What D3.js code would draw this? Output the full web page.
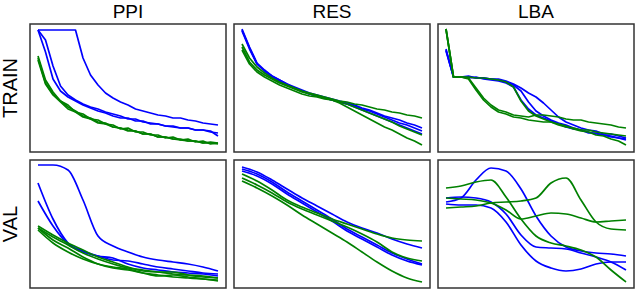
<!DOCTYPE html>
<html>
<meta charset="UTF-8" />
<script src="https://cdn.jsdelivr.net/npm/d3@7/dist/d3.min.js"></script>
<style>
*{margin:0; padding:0;}
body{background:#fff; width:636px; height:290px; overflow:hidden;}
</style>
<body>
<div id="chart"></div>
<script>
var columns = ["PPI", "RES", "LBA"];
var rows = ["TRAIN", "VAL"];

// x positions (epochs) of the samples
var trainEpochs = d3.range(25);
var valEpochs = d3.range(13);

// ---- TRAIN ----
var ppiTrainBlue = [
	[1.16,1.16,1.16,1.16,1.16,1.16,0.88,0.71,0.61,0.53,0.48,0.44,0.41,0.37,0.35,0.33,0.31,0.30,0.28,0.28,0.26,0.25,0.23,0.22,0.21],
	[1.16,0.94,0.67,0.55,0.49,0.45,0.41,0.38,0.35,0.33,0.30,0.28,0.28,0.25,0.25,0.22,0.22,0.20,0.19,0.18,0.18,0.16,0.16,0.15,0.10],
	[1.16,1.06,0.80,0.60,0.51,0.46,0.42,0.39,0.37,0.34,0.32,0.30,0.27,0.27,0.24,0.23,0.22,0.20,0.20,0.18,0.18,0.16,0.16,0.14,0.13]
];
var ppiTrainGreen = [
	[0.90,0.66,0.54,0.45,0.41,0.34,0.32,0.27,0.26,0.22,0.21,0.17,0.18,0.14,0.14,0.11,0.11,0.08,0.09,0.06,0.07,0.04,0.05,0.02,0.03],
	[0.88,0.63,0.52,0.45,0.39,0.35,0.30,0.28,0.24,0.23,0.19,0.18,0.16,0.15,0.12,0.12,0.09,0.09,0.07,0.07,0.05,0.05,0.03,0.04,0.03],
	[0.86,0.62,0.51,0.44,0.37,0.34,0.29,0.27,0.23,0.22,0.19,0.18,0.15,0.15,0.12,0.12,0.09,0.09,0.07,0.06,0.05,0.05,0.03,0.03,0.02]
];
var resTrainBlue = [
	[1.17,0.99,0.83,0.76,0.70,0.66,0.62,0.59,0.56,0.53,0.51,0.49,0.47,0.45,0.43,0.41,0.38,0.36,0.33,0.30,0.28,0.26,0.23,0.21,0.18],
	[1.15,0.97,0.82,0.75,0.69,0.65,0.61,0.58,0.55,0.52,0.50,0.48,0.46,0.44,0.42,0.39,0.36,0.33,0.30,0.27,0.24,0.21,0.18,0.15,0.12],
	[1.16,0.98,0.82,0.75,0.70,0.66,0.62,0.58,0.55,0.52,0.50,0.48,0.46,0.44,0.42,0.40,0.37,0.35,0.32,0.29,0.26,0.23,0.21,0.18,0.15]
];
var resTrainGreen = [
	[1.02,0.88,0.79,0.73,0.68,0.64,0.61,0.58,0.55,0.53,0.51,0.49,0.47,0.45,0.44,0.42,0.41,0.39,0.37,0.36,0.34,0.33,0.31,0.30,0.28],
	[0.99,0.84,0.76,0.71,0.67,0.63,0.60,0.57,0.54,0.52,0.50,0.48,0.46,0.44,0.42,0.39,0.36,0.33,0.30,0.27,0.24,0.20,0.17,0.14,0.11],
	[0.96,0.82,0.74,0.69,0.65,0.61,0.58,0.55,0.52,0.50,0.49,0.47,0.46,0.43,0.39,0.35,0.31,0.27,0.23,0.19,0.16,0.12,0.08,0.05,0.01]
];
var lbaTrainBlue = [
	[0.97,0.69,0.69,0.70,0.68,0.68,0.67,0.67,0.65,0.62,0.58,0.53,0.49,0.43,0.36,0.29,0.24,0.21,0.18,0.16,0.15,0.12,0.12,0.10,0.08],
	[0.95,0.69,0.69,0.68,0.69,0.67,0.66,0.65,0.63,0.59,0.46,0.37,0.31,0.28,0.25,0.22,0.19,0.17,0.16,0.13,0.13,0.11,0.10,0.08,0.06],
	[0.96,0.69,0.69,0.69,0.68,0.68,0.67,0.66,0.64,0.61,0.55,0.44,0.35,0.30,0.26,0.23,0.21,0.18,0.16,0.14,0.12,0.11,0.09,0.08,0.07]
];
var lbaTrainGreen = [
	[1.17,0.69,0.69,0.69,0.68,0.68,0.67,0.66,0.64,0.59,0.45,0.35,0.30,0.27,0.24,0.22,0.20,0.17,0.15,0.14,0.11,0.10,0.07,0.05,0.01],
	[1.17,0.69,0.69,0.68,0.58,0.48,0.41,0.36,0.34,0.31,0.30,0.29,0.31,0.31,0.30,0.29,0.27,0.26,0.26,0.24,0.23,0.22,0.21,0.19,0.18],
	[1.17,0.69,0.69,0.67,0.56,0.46,0.39,0.34,0.32,0.29,0.28,0.26,0.25,0.24,0.24,0.21,0.19,0.18,0.16,0.16,0.14,0.13,0.12,0.11,0.10]
];

// ---- VAL ----
var ppiValBlue = [
	[1.17,1.17,1.12,0.82,0.46,0.36,0.30,0.25,0.22,0.20,0.18,0.15,0.11],
	[0.99,0.63,0.39,0.31,0.26,0.22,0.21,0.18,0.15,0.13,0.11,0.09,0.08],
	[0.81,0.56,0.38,0.30,0.26,0.24,0.18,0.14,0.12,0.10,0.09,0.08,0.06]
];
var ppiValGreen = [
	[0.54,0.42,0.34,0.25,0.18,0.14,0.12,0.09,0.07,0.05,0.04,0.03,0.01],
	[0.54,0.45,0.37,0.29,0.23,0.18,0.14,0.12,0.10,0.08,0.07,0.06,0.04],
	[0.52,0.39,0.30,0.23,0.18,0.15,0.13,0.09,0.06,0.07,0.05,0.03,0.02],
	[0.56,0.47,0.39,0.32,0.25,0.20,0.15,0.11,0.10,0.10,0.07,0.05,0.04]
];
var resValBlue = [
	[1.15,1.10,1.02,0.93,0.84,0.76,0.68,0.60,0.54,0.49,0.43,0.38,0.34],
	[1.13,1.08,1.00,0.90,0.81,0.72,0.63,0.53,0.45,0.37,0.29,0.23,0.18],
	[1.11,1.06,0.98,0.88,0.79,0.70,0.61,0.51,0.43,0.35,0.27,0.21,0.17]
];
var resValGreen = [
	[1.08,1.01,0.92,0.82,0.75,0.69,0.63,0.58,0.53,0.48,0.44,0.42,0.41],
	[1.04,0.97,0.89,0.80,0.73,0.67,0.61,0.55,0.48,0.40,0.30,0.24,0.21],
	[1.01,0.94,0.86,0.77,0.67,0.58,0.49,0.40,0.30,0.20,0.11,0.04,0.00]
];
var lbaValBlue = [
	[0.80,0.84,1.02,1.14,1.11,0.93,0.66,0.46,0.35,0.31,0.29,0.28,0.26],
	[0.84,0.85,0.84,0.80,0.68,0.47,0.35,0.34,0.33,0.29,0.25,0.20,0.12],
	[0.78,0.77,0.77,0.74,0.60,0.37,0.21,0.14,0.11,0.13,0.18,0.20,0.20]
];
var lbaValGreen = [
	[0.94,0.96,1.00,1.02,0.85,0.63,0.46,0.39,0.36,0.32,0.25,0.12,0.00],
	[0.74,0.75,0.76,0.79,0.80,0.81,0.84,0.99,1.04,0.82,0.60,0.53,0.52],
	[0.84,0.83,0.82,0.79,0.72,0.63,0.66,0.69,0.68,0.64,0.60,0.61,0.62]
];

var panels = [
	{row:0, col:0, epochs:trainEpochs, blue:ppiTrainBlue, green:ppiTrainGreen, curve:d3.curveLinear},
	{row:0, col:1, epochs:trainEpochs, blue:resTrainBlue, green:resTrainGreen, curve:d3.curveLinear},
	{row:0, col:2, epochs:trainEpochs, blue:lbaTrainBlue, green:lbaTrainGreen, curve:d3.curveLinear},
	{row:1, col:0, epochs:valEpochs, blue:ppiValBlue, green:ppiValGreen, curve:d3.curveMonotoneX},
	{row:1, col:1, epochs:valEpochs, blue:resValBlue, green:resValGreen, curve:d3.curveMonotoneX},
	{row:1, col:2, epochs:valEpochs, blue:lbaValBlue, green:lbaValGreen, curve:d3.curveMonotoneX}
];

var width = 636, height = 290;
var colLeft = [30, 234, 438], panelW = 196;
var rowTop = [24, 160], panelH = 128;

var svg = d3.select("#chart").append("svg")
	.attr("width", width)
	.attr("height", height);

// column titles
svg.selectAll(".coltitle").data(columns).enter().append("text")
	.attr("x", function(d, i){ return colLeft[i] + panelW/2; })
	.attr("y", 17.5)
	.attr("text-anchor", "middle")
	.style("font-family", "'Liberation Sans', Arial, sans-serif")
	.style("font-size", "19px")
	.text(function(d){ return d; });

// row titles
svg.selectAll(".rowtitle").data(rows).enter().append("text")
	.attr("transform", function(d, i){ return "translate(17," + (rowTop[i] + panelH/2) + ") rotate(-90)"; })
	.attr("text-anchor", "middle")
	.style("font-family", "'Liberation Sans', Arial, sans-serif")
	.style("font-size", "20px")
	.text(function(d){ return d; });

panels.forEach(function(p){
	var left = colLeft[p.col], top = rowTop[p.row];
	var x = d3.scaleLinear()
		.domain([0, p.epochs.length - 1])
		.range([left + 8, left + panelW - 8]);
	var y = d3.scaleLinear()
		.domain([0, 1.2])
		.range([top + panelH - 6, top + 2]);
	var line = d3.line()
		.x(function(d, i){ return x(p.epochs[i]); })
		.y(function(d){ return y(d); })
		.curve(p.curve);

	var g = svg.append("g");
	g.append("rect")
		.attr("x", left)
		.attr("y", top)
		.attr("width", panelW)
		.attr("height", panelH)
		.attr("fill", "#fff")
		.attr("stroke", "#333")
		.attr("stroke-width", 1.5);

	p.blue.forEach(function(s){
		g.append("path").attr("d", line(s))
			.attr("fill", "none").attr("stroke", "#0000ff")
			.attr("stroke-width", 1.7).attr("stroke-linejoin", "round");
	});
	p.green.forEach(function(s){
		g.append("path").attr("d", line(s))
			.attr("fill", "none").attr("stroke", "#008000")
			.attr("stroke-width", 1.7).attr("stroke-linejoin", "round");
	});
});
</script>
</body>
</html>
